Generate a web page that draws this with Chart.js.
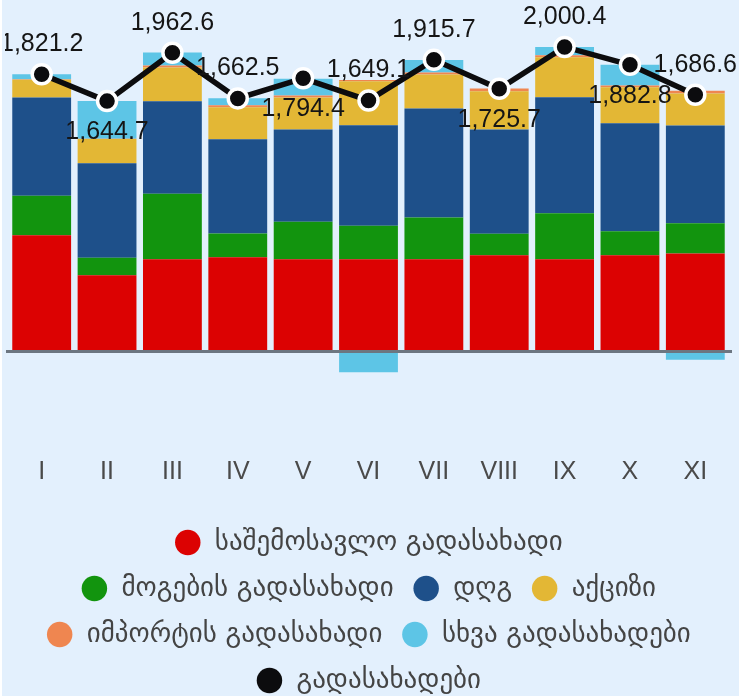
<!DOCTYPE html>
<html>
<head>
<meta charset="utf-8">
<script src="https://cdn.jsdelivr.net/npm/chart.js@4"></script>
<style>
  html, body { margin:0; padding:0; background:#fff; }
  #wrap { position:absolute; left:2px; top:0; width:737px; height:696px; background:#e3f0fd; }
</style>
</head>
<body>
<div id="wrap"><canvas id="taxChart"></canvas></div>
<script>
// months and tax revenue (mln GEL)
const months    = ['I','II','III','IV','V','VI','VII','VIII','IX','X','XI'];
const incomeTax = [764, 501, 606, 619, 606, 606, 606, 632, 606, 632, 645];
const profitTax = [260, 116, 431, 156, 247, 221, 274, 142, 302, 158, 197];
const vat       = [645, 619, 606, 619, 606, 659, 716, 685, 762, 709, 643];
const excise    = [116, 160, 223, 210, 210, 289, 223, 250, 263, 236, 210];
const importTax = [3, 2, 13, 13, 13, 9, 13, 18, 13, 13, 18];
const otherTax  = [33, 247, 85, 46, 110, -135, 83, 0, 57, 136, -53];
const totalTax  = [1821.2, 1644.7, 1962.6, 1662.5, 1794.4, 1649.1, 1915.7, 1725.7, 2000.4, 1882.8, 1686.6];
// label above (true) or below (false) the point
const labelAbove = [true, false, true, true, false, true, true, false, true, false, true];

const barNames  = ['საშემოსავლო გადასახადი','მოგების გადასახადი','დღგ','აქციზი','იმპორტის გადასახადი','სხვა გადასახადები'];
const barColors = ['#dc0202','#12940e','#1e508a','#e3b735','#ef8650','#5dc5e6'];
const barSeries = [incomeTax, profitTax, vat, excise, importTax, otherTax];
const lineName  = 'გადასახადები';

const fmt = v => v.toLocaleString('en-US', {minimumFractionDigits:1, maximumFractionDigits:1});

const overlay = {
  id: 'overlay',
  beforeDatasetDraw(chart, args) {
    if (args.meta.type !== 'line') return;
    // zero line between the bars and the total line
    const ctx = chart.ctx, a = chart.chartArea;
    const y0 = chart.scales.y.getPixelForValue(0);
    ctx.save();
    ctx.strokeStyle = '#6c7681';
    ctx.lineWidth = 3;
    ctx.beginPath();
    ctx.moveTo(a.left - 3, y0);
    ctx.lineTo(a.right + 4, y0);
    ctx.stroke();
    ctx.restore();
  },
  afterDatasetsDraw(chart) {
    const ctx = chart.ctx, a = chart.chartArea;
    const meta = chart.getDatasetMeta(barSeries.length);
    ctx.save();
    ctx.beginPath();
    ctx.rect(a.left - 4, 0, chart.width, chart.height);
    ctx.clip();
    ctx.font = '25px "Liberation Sans", Arial, sans-serif';
    ctx.fillStyle = '#151515';
    ctx.textAlign = 'center';
    ctx.textBaseline = 'middle';
    meta.data.forEach((pt, i) => {
      ctx.fillText(fmt(totalTax[i]), pt.x, pt.y + (labelAbove[i] ? -30 : 31));
    });
    ctx.restore();
  }
};

const datasets = barSeries.map((data, i) => ({
  type: 'bar', label: barNames[i], data,
  backgroundColor: barColors[i], legendColor: barColors[i],
  borderWidth: 0, stack: 'taxes', order: 1,
  barPercentage: 1, categoryPercentage: 0.9
}));
datasets.push({
  type: 'line', label: lineName, data: totalTax, stack: 'total', order: 0,
  borderColor: '#0c0c0e', backgroundColor: '#0c0c0e', legendColor: '#0c0c0e',
  borderWidth: 5.5, tension: 0, clip: false,
  pointRadius: 9.5, pointBorderWidth: 3.5,
  pointBackgroundColor: '#0c0c0e', pointBorderColor: '#ffffff'
});

new Chart(document.getElementById('taxChart'), {
  type: 'bar',
  data: { labels: months, datasets },
  options: {
    responsive: true, maintainAspectRatio: false, animation: false,
    layout: { autoPadding: false, padding: { top: 47, left: 7, right: 11, bottom: -8 } },
    plugins: {
      tooltip: { enabled: false },
      legend: {
        position: 'bottom',
        labels: {
          usePointStyle: true, boxHeight: 18, padding: 19, color: '#444',
          font: { size: 27, family: '"DejaVu Sans", sans-serif' },
          generateLabels: chart => chart.data.datasets.map((ds, i) => ({
            text: ds.label, fillStyle: ds.legendColor, strokeStyle: ds.legendColor,
            lineWidth: 0, pointStyle: 'circle', hidden: false, datasetIndex: i, fontColor: '#444'
          }))
        }
      }
    },
    scales: {
      x: {
        stacked: true,
        grid: { display: false }, border: { display: false },
        ticks: { color: '#4a4a4a', padding: 6, font: { size: 25, family: '"Liberation Sans", Arial, sans-serif' } },
        afterFit: s => { s.height = 67; }
      },
      y: { stacked: true, display: false, min: -600, max: 2000 }
    }
  },
  plugins: [overlay]
});
</script>
</body>
</html>
